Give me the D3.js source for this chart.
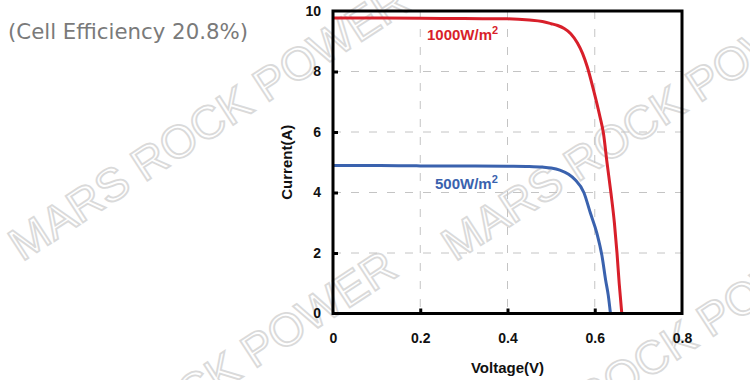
<!DOCTYPE html>
<html><head><meta charset="utf-8">
<script src="https://cdn.jsdelivr.net/npm/d3@7"></script>
<style>body{margin:0;background:#fff}svg{display:block}</style>
</head><body>
<script>
// ---- data ----
const xTicks = [0, 0.2, 0.4, 0.6, 0.8];
const yTicks = [0, 2, 4, 6, 8, 10];
const seriesNames = ["1000W/m²", "500W/m²"];
const red1000 = [[0,9.77],[0.1,9.77],[0.2,9.76],[0.3,9.75],[0.4,9.74],[0.45,9.7],[0.48,9.65],[0.5,9.58],[0.515,9.52],[0.53,9.42],[0.545,9.25],[0.56,8.95],[0.572,8.6],[0.583,8.15],[0.597,7.4],[0.612,6.5],[0.62,5.95],[0.628,5.0],[0.637,4.0],[0.645,3.0],[0.651,2.0],[0.656,1.0],[0.662,0]];
const blue500 = [[0,4.89],[0.1,4.89],[0.2,4.88],[0.3,4.88],[0.4,4.87],[0.45,4.86],[0.48,4.84],[0.5,4.81],[0.52,4.74],[0.54,4.6],[0.555,4.42],[0.575,4.0],[0.59,3.32],[0.605,2.65],[0.617,1.87],[0.625,1.1],[0.631,0.6],[0.636,0]];
const titleText = "(Cell Efficiency 20.8%)";
const watermarkWords = ["MARS", "ROCK", "POWER"];

const W = 750, H = 380;
const svg = d3.select("body").append("svg").attr("width", W).attr("height", H);
const font = "'Liberation Sans', Arial, sans-serif";

// watermark (background), drawn word by word
const wm = [[22,262],[455,262],[10,528],[466,497]];
const wmSize = 46;
const wmG = svg.append("g");
wm.forEach(p => {
  const t = wmG.append("text")
    .attr("transform", `translate(${p[0]},${p[1]}) rotate(-33)`)
    .attr("font-family", font).attr("font-size", wmSize)
    .attr("fill", "none").attr("stroke", "#dadada").attr("stroke-width", 1.8)
    .text(watermarkWords.join(" "));
});

const x = d3.scaleLinear().domain([0, 0.8]).range([333, 682]);
const y = d3.scaleLinear().domain([0, 10]).range([313.5, 11]);

// grid
const g = svg.append("g");
g.selectAll(".gx").data(xTicks.filter(t => t > 0 && t < 0.8)).join("line")
  .attr("x1", d => x(d)).attr("x2", d => x(d)).attr("y1", y(10)).attr("y2", y(0))
  .attr("stroke", "#c4c4c4").attr("stroke-width", 1).attr("stroke-dasharray", "8,10");
g.selectAll(".gy").data(yTicks.filter(t => t > 0 && t < 10)).join("line")
  .attr("y1", d => y(d)).attr("y2", d => y(d)).attr("x1", x(0)).attr("x2", x(0.8))
  .attr("stroke", "#c4c4c4").attr("stroke-width", 1).attr("stroke-dasharray", "8,10");

// curves
const line = d3.line().x(d => x(d[0])).y(d => y(d[1])).curve(d3.curveMonotoneX);
svg.append("path").datum(blue500).attr("d", line).attr("fill", "none")
  .attr("stroke", "#3a62ae").attr("stroke-width", 3);
svg.append("path").datum(red1000).attr("d", line).attr("fill", "none")
  .attr("stroke", "#d81f2a").attr("stroke-width", 3);

// axes
const xAxis = d3.axisBottom(x).tickValues(xTicks).tickSizeInner(-5).tickSizeOuter(0)
  .tickPadding(20).tickFormat(d => d === 0 ? "0" : d3.format(".1f")(d));
const yAxis = d3.axisLeft(y).tickValues(yTicks).tickSizeInner(-5).tickSizeOuter(0)
  .tickPadding(12).tickFormat(d3.format("d"));
const gx = svg.append("g").attr("transform", `translate(0,${y(0)})`).call(xAxis);
const gy = svg.append("g").attr("transform", `translate(${x(0)},0)`).call(yAxis);
[gx, gy].forEach(a => {
  a.select(".domain").remove();
  a.selectAll(".tick line").attr("stroke", "#000").attr("stroke-width", 3);
  a.selectAll(".tick text").attr("font-family", font).attr("font-weight", "bold")
    .attr("font-size", 14).attr("fill", "#111");
});
gx.selectAll(".tick").filter(d => d === 0 || d === 0.8).select("line").remove();
gy.selectAll(".tick").filter(d => d === 0 || d === 10).select("line").remove();

// frame
svg.append("rect").attr("x", x(0)).attr("y", y(10)).attr("width", x(0.8) - x(0))
  .attr("height", y(0) - y(10)).attr("fill", "none").attr("stroke", "#000").attr("stroke-width", 3);

// series labels with superscript 2
function label(txt, px, py, color) {
  const base = txt.replace("²", "");
  const t = svg.append("text").attr("x", px).attr("y", py).attr("font-family", font)
    .attr("font-weight", "bold").attr("font-size", 15).attr("fill", color);
  t.append("tspan").text(base);
  t.append("tspan").attr("dy", -6).attr("font-size", 11).text("2");
}
label(seriesNames[0], 427, 40, "#d81f2a");
label(seriesNames[1], 435, 189, "#3a62ae");

// axis titles
svg.append("text").attr("x", (x(0) + x(0.8)) / 2).attr("y", 373).attr("text-anchor", "middle")
  .attr("font-family", font).attr("font-weight", "bold").attr("font-size", 15).attr("fill", "#111")
  .text("Voltage(V)");
svg.append("text").attr("transform", `translate(292,${(y(0) + y(10)) / 2}) rotate(-90)`)
  .attr("text-anchor", "middle").attr("font-family", font).attr("font-weight", "bold")
  .attr("font-size", 15).attr("fill", "#111").text("Current(A)");

// title
svg.append("text").attr("x", 8).attr("y", 39).attr("font-family", "'DejaVu Sans', sans-serif")
  .attr("font-size", 22).attr("fill", "#7a7a7a").attr("textLength", 240)
  .attr("lengthAdjust", "spacingAndGlyphs").text(titleText);
</script>
</body></html>
